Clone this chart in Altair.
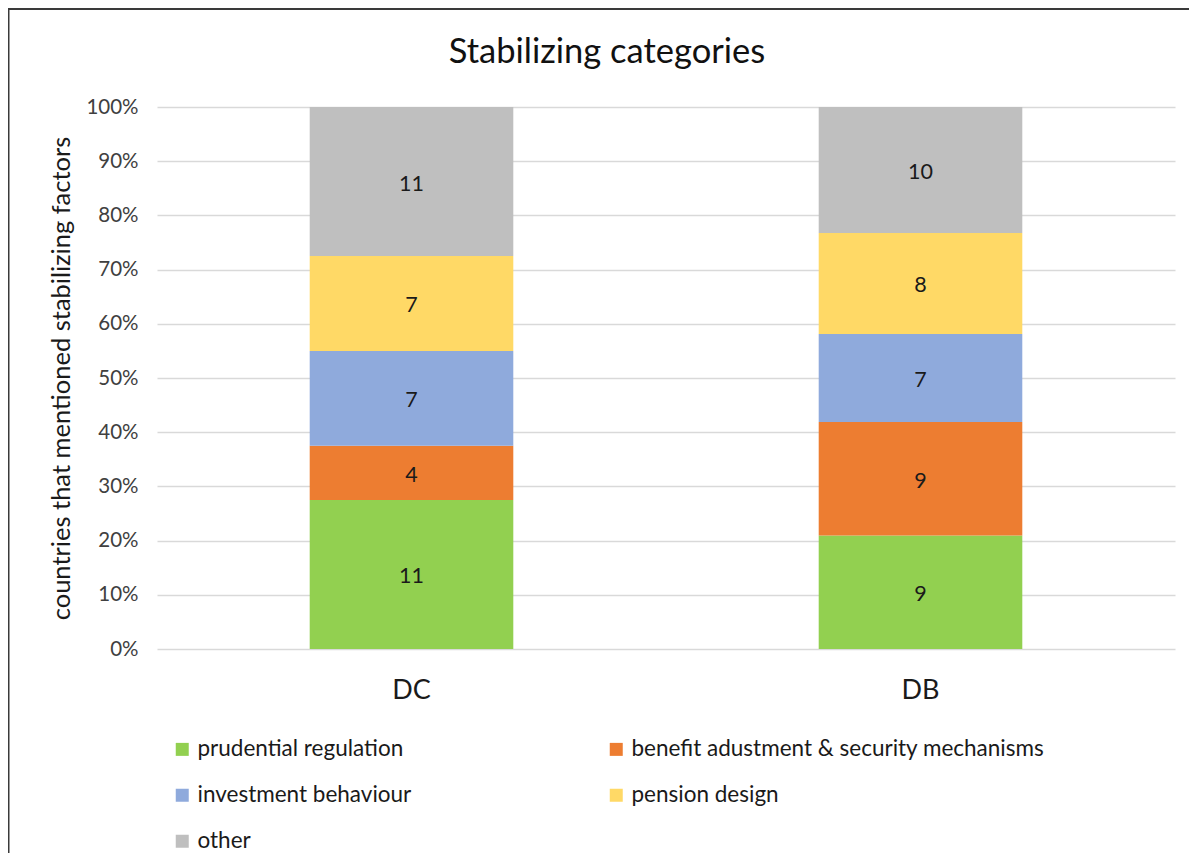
import altair as alt
import pandas as pd

categories = ["prudential regulation", "benefit adustment & security mechanisms",
              "investment behaviour", "pension design", "other"]
groups = ["DC", "DB"]
dc_values = [11, 4, 7, 7, 11]
db_values = [9, 9, 7, 8, 10]
colors = ["#92D050", "#ED7D31", "#8FAADC", "#FFD966", "#BFBFBF"]

rows = []
for g, vals in zip(groups, [dc_values, db_values]):
    for i, (c, v) in enumerate(zip(categories, vals)):
        rows.append({"group": g, "category": c, "value": v, "idx": i})
df = pd.DataFrame(rows)

FONT = "Lato"
W, H = 1018, 542

base = alt.Chart(df)

x_enc = alt.X("group:N", sort=groups, title=None,
              scale=alt.Scale(paddingInner=0.6, paddingOuter=0.3),
              axis=alt.Axis(labelFontSize=27, labelColor="#1a1a1a", ticks=False,
                            domain=False, labelPadding=28, labelAngle=0, labelFont=FONT))

bars = base.mark_bar().encode(
    x=x_enc,
    y=alt.Y("value:Q", stack="normalize",
            scale=alt.Scale(domain=[0, 1], nice=False),
            title="countries that mentioned stabilizing factors",
            axis=alt.Axis(format=".0%", values=[i / 10 for i in range(11)],
                          labelFontSize=20.5, labelColor="#404040", labelFont=FONT,
                          titleFontSize=25.5, titleColor="#1a1a1a", titleFont=FONT,
                          titleFontWeight="normal", titlePadding=11,
                          ticks=False, domain=False, labelPadding=19,
                          grid=True, gridColor="#D9D9D9", gridWidth=1.3)),
    color=alt.Color("category:N", sort=categories,
                    scale=alt.Scale(domain=categories, range=colors),
                    legend=alt.Legend(title=None, orient="none", legendX=14, legendY=631,
                                      columns=2, direction="horizontal",
                                      columnPadding=193, rowPadding=23,
                                      symbolType="square", symbolSize=169,
                                      symbolStrokeWidth=0, labelFontSize=22.5,
                                      labelFont=FONT, labelColor="#1a1a1a",
                                      labelOffset=4, labelLimit=600)),
    order=alt.Order("idx:Q", sort="ascending"),
)

labels = base.transform_joinaggregate(
    total="sum(value)", groupby=["group"]
).transform_window(
    cum="sum(value)", sort=[alt.SortField("idx")], groupby=["group"],
    frame=[None, 0]
).transform_calculate(
    mid="(datum.cum - datum.value / 2) / datum.total"
).mark_text(fontSize=21.5, font=FONT, color="#1a1a1a", baseline="middle", dy=3).encode(
    x=alt.X("group:N", sort=groups),
    y=alt.Y("mid:Q"),
    text="value:Q",
)

frame = alt.Chart(pd.DataFrame({"a": [0]})).mark_rect(
    fill=None, stroke="#3a3a3a", strokeWidth=2, clip=False
).encode(
    x=alt.value(-148.5), x2=alt.value(1300), y=alt.value(-98), y2=alt.value(1000)
)

chart = alt.layer(frame, bars, labels).properties(
    width=W, height=H,
    title=alt.TitleParams("Stabilizing categories", fontSize=34.5, font=FONT,
                          fontWeight="normal", color="#111111", dx=-59,
                          frame="group", anchor="middle", offset=-62),
    autosize=alt.AutoSizeParams(type="none"),
    padding={"left": 149, "top": 99, "right": 14, "bottom": 204},
).configure_view(stroke=None)

chart.save("out.html", embed_options={"renderer": "svg", "actions": False})
